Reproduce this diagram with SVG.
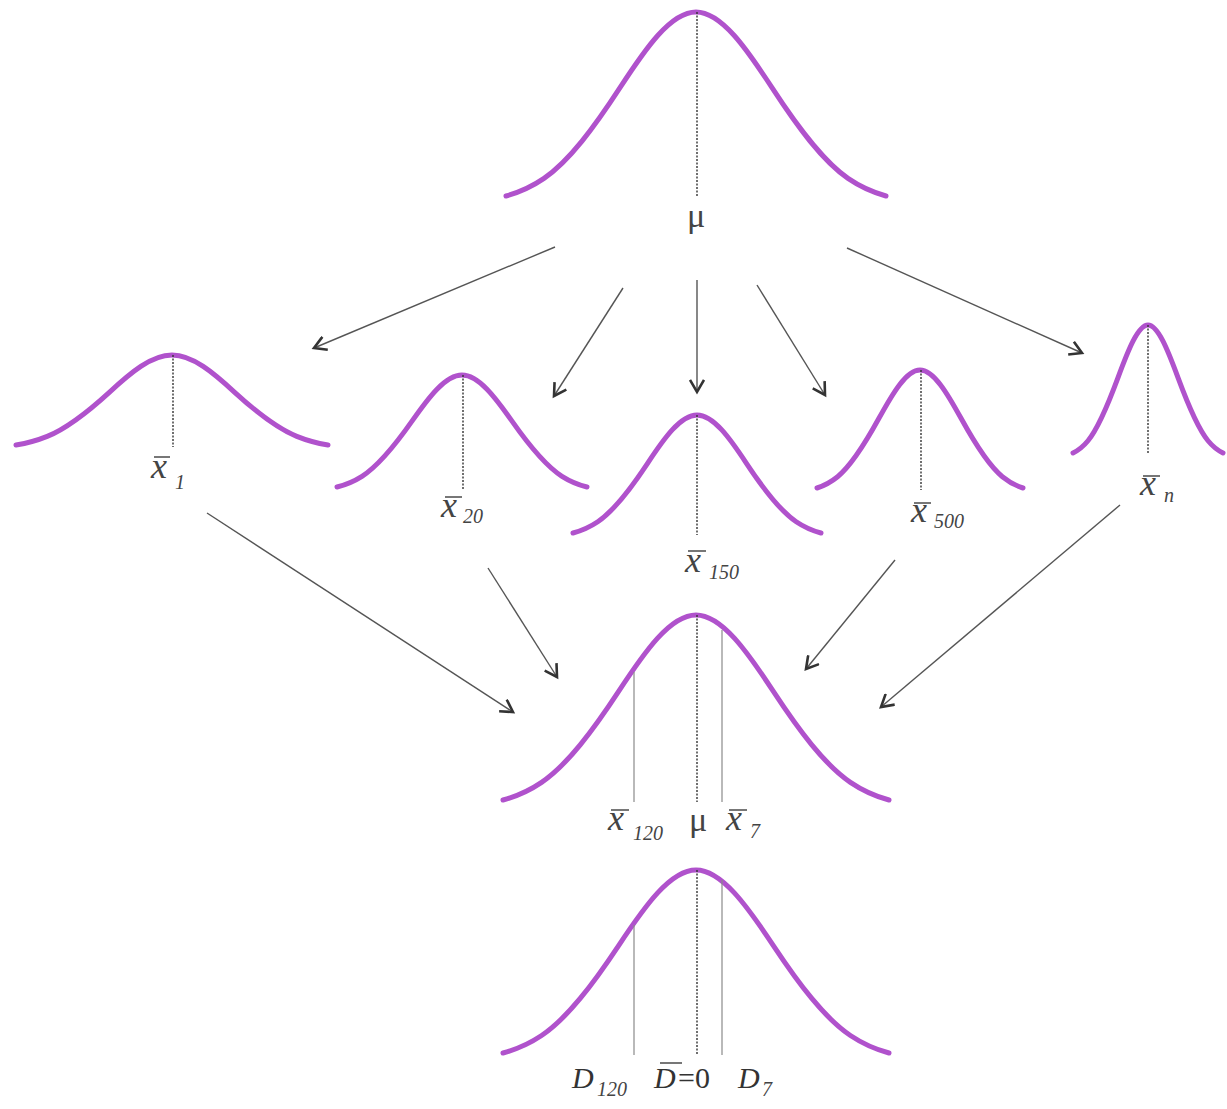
<svg xmlns="http://www.w3.org/2000/svg" xmlns:xlink="http://www.w3.org/1999/xlink" width="1227" height="1109" viewBox="0 0 1227 1109">
<style>
.curve{fill:none;stroke:#b052cc;stroke-width:5;stroke-linecap:round}
.dot{stroke:#333;stroke-width:1.4;stroke-dasharray:2 1.5;fill:none}
.gray{stroke:#8a8a8a;stroke-width:1.2;fill:none}
.bar{stroke:#555;stroke-width:1.6}
.conn{stroke:#555;stroke-width:1.4;fill:none}
.lx{font-family:"Liberation Serif",serif;font-style:italic;font-size:36px;fill:#444}
.sub{font-family:"Liberation Serif",serif;font-style:italic;font-size:20px;fill:#444}
.mu{font-family:"Liberation Serif",serif;font-size:34px;fill:#444}
.dl{font-family:"Liberation Serif",serif;font-style:italic;font-size:30px;fill:#333}
.eq{font-family:"Liberation Serif",serif;font-size:30px;fill:#333}
</style>
<defs>
<path id="g" class="curve" vector-effect="non-scaling-stroke" d="M-1,0 C-0.9333,-0.0191 -0.8667,-0.0484 -0.8,-0.0956 C-0.6667,-0.1899 -0.5333,-0.3769 -0.4,-0.5884 C-0.2667,-0.7999 -0.1333,-1 0,-1 C0.1333,-1 0.2667,-0.7999 0.4,-0.5884 C0.5333,-0.3769 0.6667,-0.1899 0.8,-0.0956 C0.8667,-0.0484 0.9333,-0.0191 1,0"/>
<marker id="ah" viewBox="0 0 16 16" refX="13" refY="8" markerWidth="16" markerHeight="16" markerUnits="userSpaceOnUse" orient="auto">
<path d="M1,1 L13,8 L1,15" fill="none" stroke="#333" stroke-width="2.6" stroke-linejoin="miter"/>
</marker>
</defs>
<rect width="1227" height="1109" fill="#ffffff"/>

<g id="population">
<use xlink:href="#g" transform="translate(696,196) scale(190,184)"/>
<line class="dot" x1="697" y1="12" x2="697" y2="196"/>
<text class="mu" x="696" y="227" text-anchor="middle">μ</text>
</g>

<g id="sample1">
<use xlink:href="#g" transform="translate(172,445) scale(156,90)"/>
<line class="dot" x1="173" y1="355" x2="173" y2="447"/>
<line class="bar" x1="154" y1="457" x2="170" y2="457"/>
<text class="lx" x="151" y="478">x</text>
<text class="sub" x="175" y="489">1</text>
</g>

<g id="sample20">
<use xlink:href="#g" transform="translate(462,487) scale(125,112)"/>
<line class="dot" x1="463" y1="375" x2="463" y2="489"/>
<line class="bar" x1="445" y1="497" x2="462" y2="497"/>
<text class="lx" x="441" y="517">x</text>
<text class="sub" x="463" y="523">20</text>
</g>

<g id="sample150">
<use xlink:href="#g" transform="translate(697,533) scale(124,118)"/>
<line class="dot" x1="697" y1="415" x2="697" y2="535"/>
<line class="bar" x1="688" y1="551" x2="706" y2="551"/>
<text class="lx" x="685" y="572">x</text>
<text class="sub" x="709" y="579">150</text>
</g>

<g id="sample500">
<use xlink:href="#g" transform="translate(920,488) scale(103,118)"/>
<line class="dot" x1="921" y1="370" x2="921" y2="490"/>
<line class="bar" x1="914" y1="503" x2="931" y2="503"/>
<text class="lx" x="911" y="522">x</text>
<text class="sub" x="934" y="528">500</text>
</g>

<g id="samplen">
<use xlink:href="#g" transform="translate(1148,453) scale(75,128)"/>
<line class="dot" x1="1148" y1="325" x2="1148" y2="453"/>
<line class="bar" x1="1143" y1="476" x2="1160" y2="476"/>
<text class="lx" x="1140" y="495">x</text>
<text class="sub" x="1164" y="502">n</text>
</g>

<g id="sampling-distribution">
<use xlink:href="#g" transform="translate(696,800) scale(193,185)"/>
<line class="dot" x1="697" y1="615" x2="697" y2="802"/>
<line class="gray" x1="634" y1="672" x2="634" y2="802"/>
<line class="gray" x1="722" y1="630" x2="722" y2="802"/>
<line class="bar" x1="611" y1="810" x2="629" y2="810"/>
<text class="lx" x="608" y="830">x</text>
<text class="sub" x="633" y="840">120</text>
<text class="mu" x="698" y="831" text-anchor="middle">μ</text>
<line class="bar" x1="729" y1="810" x2="747" y2="810"/>
<text class="lx" x="726" y="830">x</text>
<text class="sub" x="750" y="838">7</text>
</g>

<g id="difference-distribution">
<use xlink:href="#g" transform="translate(696,1053) scale(193,183)"/>
<line class="dot" x1="697" y1="870" x2="697" y2="1055"/>
<line class="gray" x1="634" y1="925" x2="634" y2="1055"/>
<line class="gray" x1="722" y1="880" x2="722" y2="1055"/>
<text class="dl" x="572" y="1088">D</text>
<text class="sub" x="597" y="1096">120</text>
<line class="bar" x1="660" y1="1063" x2="682" y2="1063"/>
<text class="dl" x="654" y="1088">D</text>
<text class="eq" x="678" y="1088">=0</text>
<text class="dl" x="738" y="1088">D</text>
<text class="sub" x="762" y="1096">7</text>
</g>

<g id="connectors">
<line class="conn" x1="555" y1="247" x2="314" y2="348" marker-end="url(#ah)"/>
<line class="conn" x1="623" y1="288" x2="554" y2="396" marker-end="url(#ah)"/>
<line class="conn" x1="697" y1="280" x2="697" y2="392" marker-end="url(#ah)"/>
<line class="conn" x1="757" y1="285" x2="825" y2="395" marker-end="url(#ah)"/>
<line class="conn" x1="847" y1="248" x2="1082" y2="353" marker-end="url(#ah)"/>
<line class="conn" x1="207" y1="513" x2="513" y2="712" marker-end="url(#ah)"/>
<line class="conn" x1="488" y1="568" x2="557" y2="677" marker-end="url(#ah)"/>
<line class="conn" x1="895" y1="560" x2="806" y2="669" marker-end="url(#ah)"/>
<line class="conn" x1="1120" y1="505" x2="881" y2="707" marker-end="url(#ah)"/>
</g>
</svg>
